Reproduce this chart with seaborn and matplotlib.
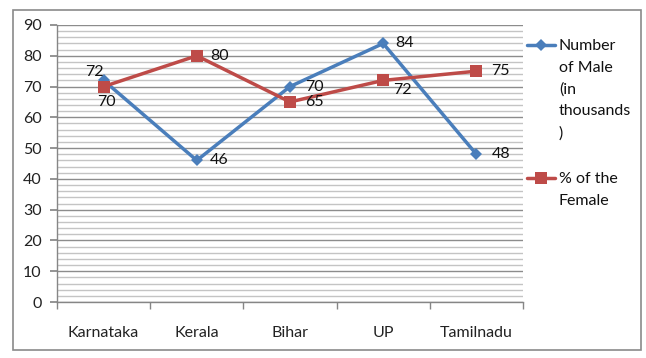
import matplotlib
matplotlib.use("Agg")
import matplotlib.pyplot as plt
from matplotlib.lines import Line2D
from matplotlib.patches import Rectangle
from matplotlib.ticker import MultipleLocator
import pandas as pd
import seaborn as sns

states = ["Karnataka", "Kerala", "Bihar", "UP", "Tamilnadu"]
male = [72, 46, 70, 84, 48]
female = [70, 80, 65, 72, 75]
male_label = "Number\nof Male\n(in\nthousands\n)"
female_label = "% of the\nFemale"

sns.set_theme(style="white")
plt.rcParams["font.family"] = ["Lato", "DejaVu Sans"]

BLUE = "#4A7EBB"
RED = "#BE4B48"
FS = 11.5

df = pd.DataFrame({"state": states, "male": male, "female": female})
df["pos"] = range(len(states))

W, H = 646, 358
fig = plt.figure(figsize=(W / 100, H / 100), dpi=100)
ax = fig.add_axes([57 / W, 56 / H, 466 / W, 277 / H])

sns.lineplot(data=df, x="pos", y="male", marker="D", markersize=6, color=BLUE,
             linewidth=2.5, markeredgewidth=0, legend=False, ax=ax)
sns.lineplot(data=df, x="pos", y="female", marker="s", markersize=8, color=RED,
             linewidth=2.5, markeredgewidth=0, legend=False, ax=ax)

# data labels: (dx, dy, ha) offsets in pixels
male_off = [(0, 8, "right"), (13, 0, "left"), (15, 0, "left"),
            (12, 0, "left"), (15, 0, "left")]
female_off = [(3, -15, "center"), (13, 0, "left"), (15, 0, "left"),
              (19, -10, "center"), (15, 0, "left")]
for series, offs in [(male, male_off), (female, female_off)]:
    for i, (v, (dx, dy, ha)) in enumerate(zip(series, offs)):
        ax.annotate(str(v), (i, v), xytext=(dx, dy), textcoords="offset pixels",
                    ha=ha, va="center", fontsize=FS, color="#111111")

ax.set_xlim(-0.5, len(states) - 0.5)
ax.set_ylim(0, 90)
ax.yaxis.set_major_locator(MultipleLocator(10))
ax.yaxis.set_minor_locator(MultipleLocator(2))
ax.set_xticks(range(len(states)))
ax.set_xticklabels(states)
ax.set_xticks([i - 0.5 for i in range(len(states) + 1)], minor=True)
ax.grid(axis="y", which="major", color="#8c8c8c", linewidth=1.0)
ax.grid(axis="y", which="minor", color="#c4c4c4", linewidth=1.0)
ax.set_axisbelow(True)
ax.set_xlabel("")
ax.set_ylabel("")

for s in ["top", "right"]:
    ax.spines[s].set_visible(False)
for s in ["left", "bottom"]:
    ax.spines[s].set_color("#868686")
    ax.spines[s].set_linewidth(1)

ax.tick_params(axis="y", which="major", left=True, length=5, color="#868686",
               labelsize=FS, pad=6, labelcolor="#222222")
ax.tick_params(axis="y", which="minor", left=False)
ax.tick_params(axis="x", which="major", bottom=False, labelsize=FS, pad=11,
               labelcolor="#222222")
ax.tick_params(axis="x", which="minor", bottom=True, length=5, color="#868686")

# legend drawn by hand so the marker sits on the first text line
for label, color, marker, msize, y in [(male_label, BLUE, "D", 6, 45),
                                       (female_label, RED, "s", 8, 178)]:
    fy = 1 - y / H
    fig.add_artist(Line2D([527 / W, 555 / W], [fy, fy], color=color,
                          linewidth=2.5, transform=fig.transFigure))
    fig.add_artist(Line2D([541 / W], [fy], color=color, marker=marker,
                          markersize=msize, markeredgewidth=0,
                          transform=fig.transFigure))
    fig.text(559 / W, 1 - (y - 6) / H, label, ha="left", va="top",
             fontsize=FS, linespacing=1.69, color="#111111")

fig.add_artist(Rectangle((13 / W, 8 / H), 628 / W, 340 / H,
                         transform=fig.transFigure, fill=False,
                         edgecolor="#8a8a8a", linewidth=1.2))

fig.savefig("out.png", dpi=100)
